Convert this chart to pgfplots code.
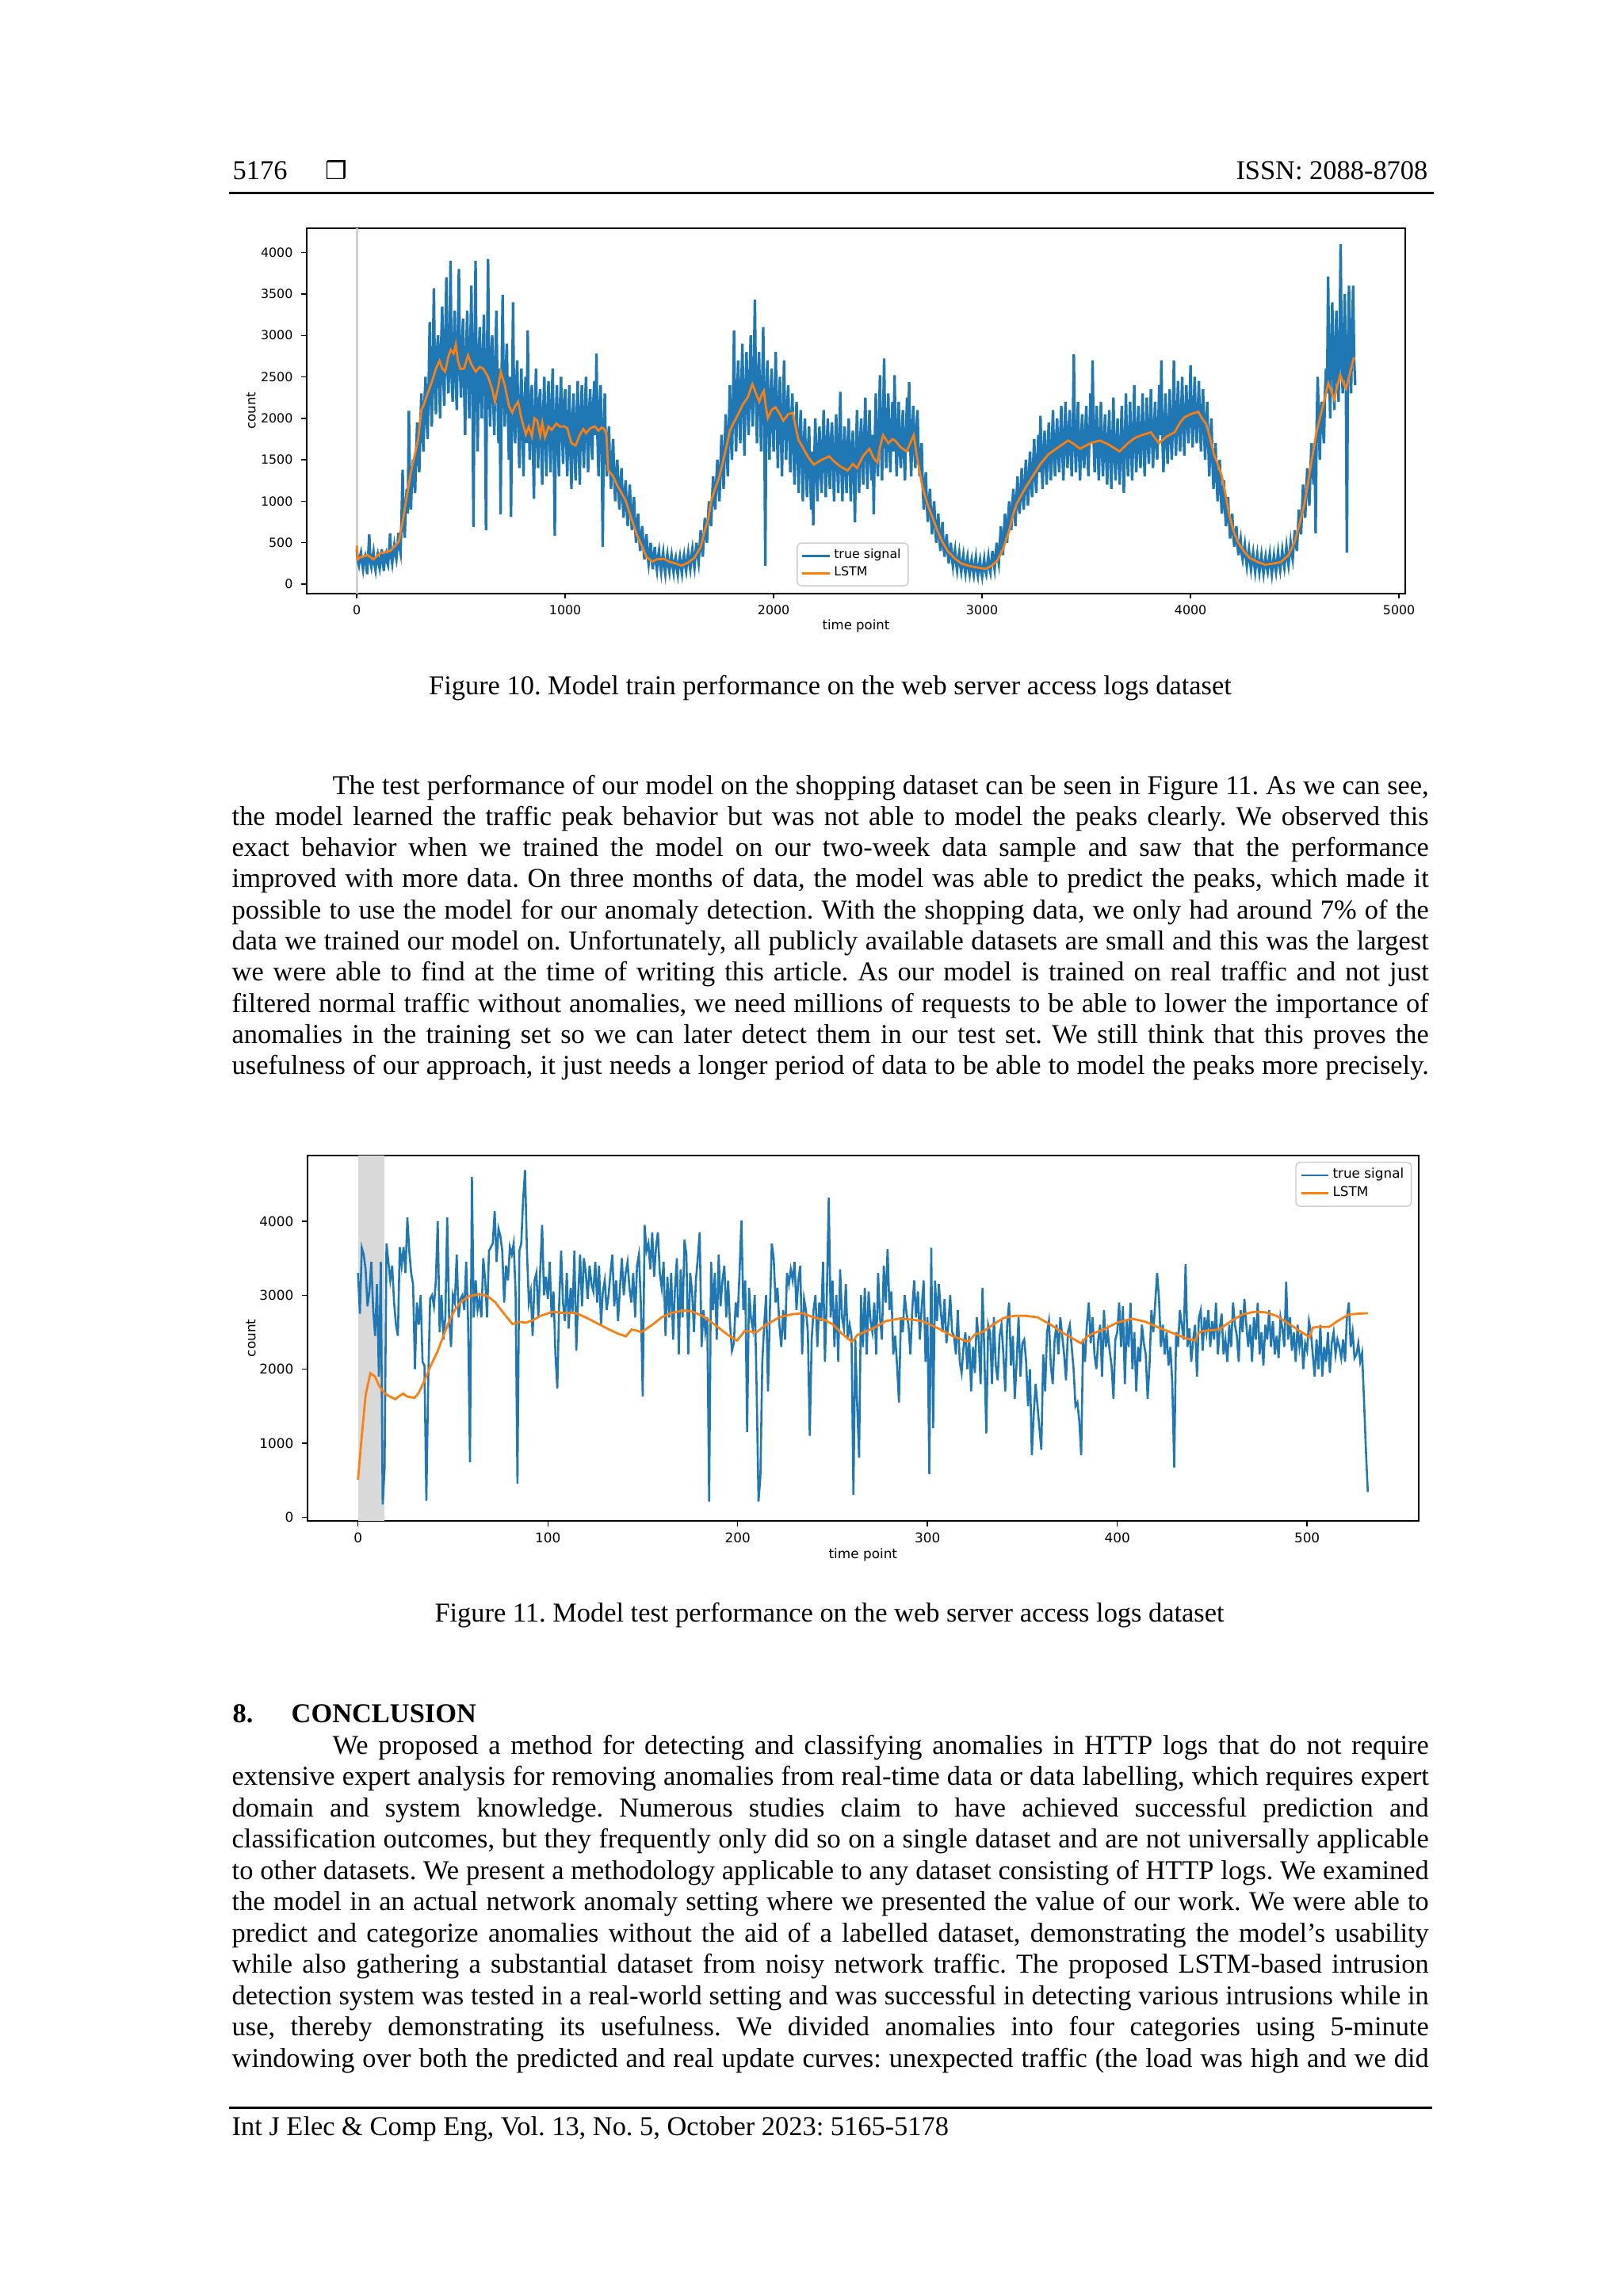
\documentclass[border=0pt]{standalone}
\usepackage{fontspec}
\setmainfont{Liberation Serif}
\newfontfamily\mpl{DejaVu Sans}
\usepackage{graphicx}
\usepackage{pgfplots}
\pgfplotsset{compat=1.18}
\frenchspacing

% full-size pixel -> pt
\def\pp{*0.290662pt}
\newlength\tw \setlength\tw{438.9pt}
\newlength\twi \setlength\twi{402.0pt}
\newcommand\jlw[2]{\setbox0=\hbox{#2}\ifdim\wd0>#1\relax\resizebox{#1}{\height}{\box0}\else\hbox to #1{#2}\fi}
\newcommand\TL[2]{\node at (292\pp,-#1\pp) {\jlw{\tw}{#2}};}
\newcommand\TLI[2]{\node at (419\pp,-#1\pp) {\jlw{\twi}{#2}};}

\definecolor{mblue}{HTML}{1F77B4}
\definecolor{morange}{HTML}{FF7F0E}

\pgfplotsset{
  mplax/.style={
    scale only axis, anchor=north west,
    axis line style={line width=0.6pt, black},
    tick align=outside, tick pos=left,
    major tick length=2pt, tick style={black, line width=0.4pt},
    scaled ticks=false,
    /pgf/number format/1000 sep={},
    /pgf/number format/assume math mode=true,
    xticklabel style={yshift=1pt},
    yticklabel style={xshift=0.4pt},
    legend cell align=left,
    legend image code/.code={\draw[##1, line width=0.8pt] (0pt,0pt) -- (10pt,0pt);},
    legend style={draw=black!20, rounded corners=1.5pt, fill=white,
      inner xsep=1.5pt, inner ysep=1pt, row sep=-1pt,
      nodes={inner sep=1.2pt}},
  },
}

\begin{document}
\begin{tikzpicture}
\fill[white] (0,0) rectangle (2048\pp,-2897\pp);
\path[use as bounding box] (0,0) rectangle (2048\pp,-2897\pp);

% header
\node[anchor=base west, inner sep=0pt, font=\fontsize{10}{12}\selectfont] at (293\pp,-226.7\pp) {5176};
\node[anchor=base west, inner sep=0pt, font=\mpl\fontsize{9}{11}\selectfont] at (410\pp,-226.7\pp) {❒};
\node[anchor=base east, inner sep=0pt, font=\fontsize{10}{12}\selectfont] at (1802\pp,-226.7\pp) {ISSN: 2088-8708};
\draw[line width=0.8pt] (289\pp,-243.3\pp) -- (1809\pp,-243.3\pp);

% Figure 10
\begin{axis}[mplax,
  at={(387\pp,-288\pp)}, width=402.86pt, height=133.88pt,
  xmin=-240, xmax=5030, ymin=-110, ymax=4292,
  xtick={0,1000,2000,3000,4000,5000},
  ytick={0,500,1000,1500,2000,2500,3000,3500,4000},
  tick label style={font=\mpl\fontsize{4.6}{5}\selectfont},
  label style={font=\mpl\fontsize{4.8}{5.5}\selectfont},
  xlabel={time point}, ylabel={count},
  xlabel style={at={(axis description cs:0.5,-0.09)}, anchor=center},
  ylabel style={at={(axis description cs:-0.0507,0.5)}, anchor=center},
  legend style={at={(0.446,0.019)}, anchor=south west, font=\mpl\fontsize{4.6}{5}\selectfont},
]
\addplot[forget plot, black!18, line width=0.9pt] coordinates {(0,-110) (0,4292)};
\addplot[mblue, line width=0.95pt] coordinates {
(0,420)(5,280)(10,230)(15,330)(20,380)(25,260)(30,180)(35,300)(40,340)(45,250)(50,120)(55,350)(60,600)(65,280)(70,210)(75,320)(80,390)(85,240)(90,170)(95,310)
(100,360)(105,250)(110,190)(115,300)(120,420)(125,280)(130,160)(135,350)(140,380)(145,270)(150,230)(155,400)(160,610)(165,330)(170,250)(175,380)(180,470)(185,360)(190,300)(195,450)
(200,620)(205,450)(210,380)(215,800)(220,1380)(225,700)(230,560)(235,950)(240,1150)(245,850)(250,2090)(255,1200)(260,900)(265,1300)(270,1500)(275,1250)(280,1100)(285,1600)(290,1950)(295,1500)
(300,1350)(305,1900)(310,2300)(315,1800)(320,1600)(325,2200)(330,2500)(335,2000)(340,1750)(345,2400)(350,3160)(355,2300)(360,1900)(365,2700)(370,3570)(375,2400)(380,2050)(385,2800)(390,3000)(395,2500)
(400,2000)(405,2900)(410,3350)(415,2500)(420,2150)(425,3000)(430,3700)(435,2600)(440,2300)(445,2950)(450,3900)(455,2500)(460,2200)(465,2900)(470,3300)(475,2450)(480,2100)(485,3000)(490,3800)(495,2600)
(500,2250)(505,2900)(510,3200)(515,2400)(520,1800)(525,2800)(530,3300)(535,2500)(540,2000)(545,2900)(550,3600)(555,2350)(560,690)(565,2800)(570,3900)(575,2400)(580,1600)(585,2700)(590,3100)(595,2300)
(600,2000)(605,2800)(610,3250)(615,2300)(620,650)(625,2700)(630,3920)(635,2400)(640,1900)(645,2750)(650,3000)(655,2200)(660,1800)(665,2700)(670,3300)(675,2300)(680,1700)(685,2600)(690,840)(695,2500)
(700,3490)(705,2300)(710,1900)(715,2600)(720,2900)(725,2100)(730,1500)(735,2500)(740,810)(745,2200)(750,3400)(755,2000)(760,1700)(765,2400)(770,2700)(775,1900)(780,1400)(785,2200)(790,2600)(795,1800)
(800,1300)(805,2200)(810,2500)(815,1700)(820,3060)(825,2000)(830,1500)(835,2200)(840,2400)(845,1700)(850,1030)(855,2100)(860,2600)(865,1800)(870,1400)(875,2200)(880,2350)(885,1650)(890,1200)(895,2100)
(900,2500)(905,1700)(910,1300)(915,2100)(920,2450)(925,1750)(930,1350)(935,2200)(940,2600)(945,1700)(950,585)(955,2000)(960,2400)(965,1700)(970,1300)(975,2150)(980,2500)(985,1800)(990,1450)(995,2200)
(1000,2350)(1005,1700)(1010,1300)(1015,2000)(1020,2400)(1025,1600)(1030,1150)(1035,2000)(1040,2300)(1045,1550)(1050,1250)(1055,2050)(1060,2450)(1065,1600)(1070,1200)(1075,2100)(1080,2400)(1085,1700)(1090,1400)(1095,2150)
(1100,2500)(1105,1750)(1110,1350)(1115,2100)(1120,2350)(1125,1700)(1130,1500)(1135,2200)(1140,2450)(1145,1800)(1150,2780)(1155,1750)(1160,1300)(1165,2150)(1170,2400)(1175,1700)(1180,450)(1185,1900)(1190,2300)(1195,1600)
(1200,1300)(1205,1700)(1210,1900)(1215,1400)(1220,1150)(1225,1500)(1230,1750)(1235,1300)(1240,1000)(1245,1350)(1250,1500)(1255,1150)(1260,900)(1265,1200)(1270,1400)(1275,1050)(1280,800)(1285,1100)(1290,1250)(1295,900)
(1300,700)(1305,1000)(1310,1200)(1315,850)(1320,650)(1325,900)(1330,1050)(1335,700)(1340,500)(1345,750)(1350,850)(1355,550)(1360,400)(1365,600)(1370,700)(1375,450)(1380,300)(1385,500)(1390,600)(1395,350)
(1400,250)(1405,400)(1410,500)(1415,300)(1420,180)(1425,350)(1430,450)(1435,260)(1440,170)(1445,320)(1450,400)(1455,250)(1460,150)(1465,300)(1470,380)(1475,220)(1480,130)(1485,290)(1490,360)(1495,230)
(1500,150)(1505,280)(1510,350)(1515,220)(1520,140)(1525,270)(1530,320)(1535,200)(1540,120)(1545,260)(1550,330)(1555,210)(1560,130)(1565,280)(1570,350)(1575,230)(1580,160)(1585,290)(1590,380)(1595,250)
(1600,180)(1605,330)(1610,420)(1615,280)(1620,200)(1625,380)(1630,500)(1635,350)(1640,260)(1645,450)(1650,650)(1655,450)(1660,330)(1665,600)(1670,800)(1675,600)(1680,500)(1685,800)(1690,1000)(1695,800)
(1700,700)(1705,1050)(1710,1300)(1715,1000)(1720,900)(1725,1250)(1730,1500)(1735,1200)(1740,1000)(1745,1450)(1750,1800)(1755,1400)(1760,1150)(1765,1650)(1770,2050)(1775,1600)(1780,1300)(1785,1900)(1790,2400)(1795,1750)
(1800,1500)(1805,2200)(1810,3060)(1815,2000)(1820,1600)(1825,2300)(1830,2700)(1835,2050)(1840,1700)(1845,2400)(1850,2900)(1855,2100)(1860,1550)(1865,2350)(1870,2800)(1875,2150)(1880,1800)(1885,2500)(1890,3000)(1895,2200)
(1900,1900)(1905,2600)(1910,3430)(1915,2300)(1920,1700)(1925,2500)(1930,2800)(1935,2100)(1940,1600)(1945,2400)(1950,3100)(1955,2100)(1960,220)(1965,2300)(1970,2700)(1975,2000)(1980,1500)(1985,2300)(1990,2600)(1995,1900)
(2000,1600)(2005,2300)(2010,2800)(2015,2000)(2020,1400)(2025,2150)(2030,2500)(2035,1800)(2040,1300)(2045,2100)(2050,2700)(2055,1900)(2060,1500)(2065,2150)(2070,2400)(2075,1800)(2080,1350)(2085,2000)(2090,2300)(2095,1650)
(2100,1200)(2105,1900)(2110,2200)(2115,1550)(2120,1100)(2125,1800)(2130,2100)(2135,1500)(2140,1000)(2145,1700)(2150,2000)(2155,1400)(2160,1050)(2165,1650)(2170,1900)(2175,1350)(2180,900)(2185,1600)(2190,710)(2195,1500)
(2200,2000)(2205,1400)(2210,1000)(2215,1650)(2220,1900)(2225,1350)(2230,1100)(2235,1700)(2240,2100)(2245,1450)(2250,1050)(2255,1700)(2260,2000)(2265,1400)(2270,1150)(2275,1750)(2280,1950)(2285,1400)(2290,1000)(2295,1650)
(2300,2050)(2305,1450)(2310,1100)(2315,1750)(2320,2320)(2325,1400)(2330,1000)(2335,1600)(2340,1900)(2345,1350)(2350,1100)(2355,1700)(2360,2000)(2365,1400)(2370,1000)(2375,1650)(2380,1850)(2385,1300)(2390,745)(2395,1600)
(2400,2100)(2405,1500)(2410,1100)(2415,1700)(2420,2000)(2425,1450)(2430,1200)(2435,1800)(2440,2250)(2445,1550)(2450,1150)(2455,1750)(2460,2100)(2465,1500)(2470,1250)(2475,1800)(2480,844)(2485,1700)(2490,2300)(2495,1550)
(2500,1300)(2505,1900)(2510,2520)(2515,1700)(2520,1250)(2525,1950)(2530,2720)(2535,1800)(2540,1400)(2545,1950)(2550,2300)(2555,1650)(2560,1350)(2565,1900)(2570,2200)(2575,1600)(2580,2520)(2585,1800)(2590,1300)(2595,1850)
(2600,2200)(2605,1600)(2610,1400)(2615,1850)(2620,2100)(2625,1550)(2630,1250)(2635,1800)(2640,2250)(2645,1600)(2650,2440)(2655,1700)(2660,1300)(2665,1850)(2670,2150)(2675,1600)(2680,1400)(2685,1900)(2690,2100)(2695,1600)
(2700,1300)(2705,1550)(2710,1700)(2715,1200)(2720,900)(2725,1150)(2730,1350)(2735,950)(2740,750)(2745,1000)(2750,1150)(2755,800)(2760,600)(2765,850)(2770,1000)(2775,700)(2780,500)(2785,700)(2790,850)(2795,550)
(2800,400)(2805,600)(2810,750)(2815,450)(2820,330)(2825,500)(2830,600)(2835,380)(2840,250)(2845,400)(2850,500)(2855,320)(2860,220)(2865,350)(2870,420)(2875,260)(2880,170)(2885,300)(2890,380)(2895,230)
(2900,150)(2905,270)(2910,350)(2915,210)(2920,130)(2925,260)(2930,330)(2935,190)(2940,120)(2945,240)(2950,300)(2955,180)(2960,110)(2965,230)(2970,320)(2975,170)(2980,100)(2985,220)(2990,290)(2995,160)
(3000,90)(3005,210)(3010,300)(3015,170)(3020,120)(3025,240)(3030,330)(3035,200)(3040,140)(3045,280)(3050,400)(3055,260)(3060,180)(3065,350)(3070,500)(3075,330)(3080,250)(3085,480)(3090,700)(3095,450)
(3100,350)(3105,650)(3110,850)(3115,600)(3120,500)(3125,800)(3130,1000)(3135,750)(3140,650)(3145,950)(3150,1150)(3155,850)(3160,700)(3165,1050)(3170,1300)(3175,950)(3180,850)(3185,1150)(3190,1400)(3195,1050)
(3200,900)(3205,1250)(3210,1500)(3215,1150)(3220,950)(3225,1350)(3230,1600)(3235,1200)(3240,1050)(3245,1450)(3250,1750)(3255,1300)(3260,1100)(3265,1500)(3270,1800)(3275,1350)(3280,2030)(3285,1500)(3290,1150)(3295,1600)
(3300,1850)(3305,1450)(3310,1200)(3315,1650)(3320,1950)(3325,1500)(3330,1250)(3335,1700)(3340,2100)(3345,1550)(3350,1300)(3355,1750)(3360,2000)(3365,1550)(3370,1350)(3375,1800)(3380,2150)(3385,1600)(3390,1250)(3395,1750)
(3400,2200)(3405,1650)(3410,1400)(3415,1850)(3420,2100)(3425,1600)(3430,1300)(3435,1800)(3440,2770)(3445,1750)(3450,1350)(3455,1800)(3460,2200)(3465,1600)(3470,1250)(3475,1750)(3480,2050)(3485,1550)(3490,1400)(3495,1850)
(3500,2150)(3505,1600)(3510,1300)(3515,1800)(3520,2300)(3525,1700)(3530,2700)(3535,1750)(3540,1350)(3545,1800)(3550,2150)(3555,1600)(3560,1250)(3565,1750)(3570,2200)(3575,1600)(3580,1300)(3585,1750)(3590,2050)(3595,1550)
(3600,1200)(3605,1700)(3610,2100)(3615,1550)(3620,1150)(3625,1700)(3630,2250)(3635,1600)(3640,1250)(3645,1650)(3650,2000)(3655,1500)(3660,1200)(3665,1700)(3670,2150)(3675,1550)(3680,1100)(3685,1700)(3690,2300)(3695,1650)
(3700,1300)(3705,1750)(3710,2200)(3715,1650)(3720,1250)(3725,1800)(3730,2400)(3735,1700)(3740,1350)(3745,1800)(3750,2150)(3755,1650)(3760,1400)(3765,1850)(3770,2300)(3775,1700)(3780,1300)(3785,1800)(3790,2250)(3795,1700)
(3800,1450)(3805,1900)(3810,2350)(3815,1750)(3820,1400)(3825,1850)(3830,2200)(3835,1700)(3840,1500)(3845,1900)(3850,2400)(3855,1800)(3860,2700)(3865,1750)(3870,1350)(3875,1850)(3880,2300)(3885,1750)(3890,1450)(3895,1900)
(3900,2350)(3905,1800)(3910,1500)(3915,1950)(3920,2700)(3925,1900)(3930,1550)(3935,2000)(3940,2450)(3945,1900)(3950,1600)(3955,2050)(3960,2500)(3965,1950)(3970,1550)(3975,2050)(3980,2400)(3985,1950)(3990,1700)(3995,2100)
(4000,2640)(4005,2000)(4010,1650)(4015,2100)(4020,2500)(4025,1950)(4030,1700)(4035,2100)(4040,2450)(4045,1950)(4050,1600)(4055,2050)(4060,2350)(4065,1850)(4070,1500)(4075,1950)(4080,2200)(4085,1700)(4090,1300)(4095,1750)
(4100,2000)(4105,1500)(4110,1150)(4115,1450)(4120,1700)(4125,1250)(4130,1000)(4135,1300)(4140,1500)(4145,1100)(4150,850)(4155,1100)(4160,1250)(4165,900)(4170,700)(4175,900)(4180,1050)(4185,750)(4190,550)(4195,750)
(4200,850)(4205,600)(4210,450)(4215,600)(4220,700)(4225,480)(4230,350)(4235,480)(4240,550)(4245,380)(4250,300)(4255,400)(4260,480)(4265,330)(4270,220)(4275,340)(4280,420)(4285,280)(4290,180)(4295,300)
(4300,380)(4305,250)(4310,150)(4315,270)(4320,360)(4325,230)(4330,140)(4335,260)(4340,350)(4345,220)(4350,130)(4355,250)(4360,330)(4365,210)(4370,150)(4375,270)(4380,360)(4385,220)(4390,120)(4395,240)
(4400,340)(4405,230)(4410,150)(4415,270)(4420,380)(4425,250)(4430,170)(4435,290)(4440,400)(4445,280)(4450,200)(4455,330)(4460,450)(4465,320)(4470,230)(4475,370)(4480,500)(4485,380)(4490,300)(4495,480)
(4500,650)(4505,500)(4510,400)(4515,650)(4520,900)(4525,700)(4530,600)(4535,900)(4540,1200)(4545,950)(4550,800)(4555,1100)(4560,1400)(4565,1150)(4570,950)(4575,1350)(4580,1700)(4585,1400)(4590,1200)(4595,1700)
(4600,613)(4605,1900)(4610,2500)(4615,2000)(4620,1500)(4625,2100)(4630,2200)(4635,1850)(4640,1700)(4645,2300)(4650,2600)(4655,2300)(4660,3710)(4665,2600)(4670,2000)(4675,2800)(4680,3400)(4685,2600)(4690,2100)(4695,2900)
(4700,3300)(4705,2500)(4710,2200)(4715,2900)(4720,4100)(4725,2700)(4730,2300)(4735,2900)(4740,3500)(4745,2600)(4750,380)(4755,2700)(4760,3600)(4765,2800)(4770,2300)(4775,3000)(4780,3600)(4785,2700)(4790,2400)
};
\addplot[morange, line width=0.8pt] coordinates {
(0,465)(5,300)(20,330)(52,350)(80,300)(110,370)(129,383)(160,400)(202,515)(220,750)(239,1045)(260,1350)
(294,1739)(310,2100)(322,2166)(340,2300)(359,2430)(380,2600)(397,2694)(410,2600)(424,2562)(440,2750)
(451,2826)(465,2780)(475,2892)(485,2700)(497,2596)(515,2600)(534,2760)(550,2650)(571,2562)(590,2620)
(608,2596)(630,2500)(650,2350)(663,2200)(680,2400)(691,2562)(710,2400)(730,2150)(746,2068)(760,2150)
(774,2200)(790,2000)(811,1805)(825,1900)(840,1780)(853,2000)(866,1970)(880,1790)(890,1950)(903,1772)
(920,1900)(935,1860)(958,1937)(975,1900)(995,1904)(1010,1880)(1030,1700)(1050,1673)(1070,1800)(1087,1871)
(1100,1820)(1120,1880)(1142,1904)(1160,1850)(1175,1890)(1188,1871)(1198,1800)(1206,1377)(1230,1300)
(1252,1179)(1270,1100)(1289,1014)(1310,850)(1330,700)(1345,586)(1370,450)(1390,330)(1418,272)(1440,300)
(1474,305)(1500,270)(1530,250)(1557,223)(1590,260)(1621,322)(1650,450)(1670,650)(1686,783)(1700,1000)
(1714,1113)(1740,1300)(1769,1607)(1790,1850)(1806,1937)(1830,2050)(1852,2166)(1875,2250)(1898,2413)
(1915,2300)(1931,2200)(1942,2280)(1953,2331)(1962,2150)(1972,2002)(1990,2100)(2009,2134)(2030,2050)
(2046,1970)(2070,2050)(2092,2068)(2105,1900)(2119,1739)(2140,1650)(2156,1574)(2175,1500)(2193,1442)
(2230,1500)(2267,1541)(2290,1480)(2320,1420)(2355,1370)(2380,1450)(2400,1400)(2430,1550)(2459,1634)
(2480,1520)(2497,1469)(2510,1650)(2525,1798)(2550,1700)(2570,1750)(2582,1733)(2610,1650)(2638,1601)
(2655,1700)(2672,1798)(2690,1500)(2714,1172)(2740,950)(2761,811)(2785,650)(2808,514)(2835,400)(2865,318)
(2900,250)(2941,218)(2980,200)(3016,185)(3045,220)(3073,284)(3100,420)(3130,646)(3150,850)(3167,976)
(3205,1150)(3243,1305)(3280,1450)(3319,1568)(3365,1650)(3413,1733)(3440,1690)(3470,1634)(3520,1700)
(3565,1733)(3610,1680)(3659,1601)(3700,1700)(3734,1766)(3770,1800)(3810,1832)(3830,1760)(3848,1700)
(3885,1780)(3924,1832)(3950,1950)(3971,2013)(4000,2050)(4037,2079)(4055,2000)(4075,1931)(4095,1750)
(4112,1568)(4130,1450)(4150,1305)(4170,1050)(4188,811)(4205,650)(4226,514)(4255,400)(4283,318)(4320,270)
(4358,235)(4400,250)(4434,268)(4470,350)(4500,514)(4525,750)(4547,976)(4575,1400)(4604,1832)(4635,2150)
(4661,2425)(4675,2330)(4689,2228)(4705,2400)(4718,2524)(4730,2450)(4746,2359)(4765,2550)(4784,2737)
};
\legend{true signal, LSTM}
\end{axis}

\node[anchor=base, inner sep=0pt, font=\fontsize{10}{12}\selectfont] at (1047.5\pp,-876\pp)
  {Figure 10. Model train performance on the web server access logs dataset};

\begin{scope}[every node/.style={anchor=base west, inner sep=0pt, font=\fontsize{10}{12}\selectfont}]
\TLI{1002}{The test performance of our model on the shopping dataset can be seen in Figure 11. As we can see,}
\TL{1041.3}{the model learned the traffic peak behavior but was not able to model the peaks clearly. We observed this}
\TL{1080.6}{exact behavior when we trained the model on our two-week data sample and saw that the performance}
\TL{1119.9}{improved with more data. On three months of data, the model was able to predict the peaks, which made it}
\TL{1159.2}{possible to use the model for our anomaly detection. With the shopping data, we only had around 7\% of the}
\TL{1198.5}{data we trained our model on. Unfortunately, all publicly available datasets are small and this was the largest}
\TL{1237.8}{we were able to find at the time of writing this article. As our model is trained on real traffic and not just}
\TL{1277.1}{filtered normal traffic without anomalies, we need millions of requests to be able to lower the importance of}
\TL{1316.4}{anomalies in the training set so we can later detect them in our test set. We still think that this proves the}
\TL{1355.7}{usefulness of our approach, it just needs a longer period of data to be able to model the peaks more precisely.}
\end{scope}

% Figure 11
\begin{axis}[mplax,
  at={(388\pp,-1458\pp)}, width=407.42pt, height=133.88pt,
  xmin=-26.6, xmax=558.7, ymin=-47, ymax=4888,
  xtick={0,100,200,300,400,500},
  ytick={0,1000,2000,3000,4000},
  tick label style={font=\mpl\fontsize{4.9}{5.5}\selectfont},
  label style={font=\mpl\fontsize{4.9}{5.5}\selectfont},
  xlabel={time point}, ylabel={count},
  xlabel style={at={(axis description cs:0.5,-0.0936)}, anchor=center},
  ylabel style={at={(axis description cs:-0.0509,0.5)}, anchor=center},
  legend style={at={(0.994,0.983)}, anchor=north east, font=\mpl\fontsize{4.9}{5.5}\selectfont},
]
\addplot[forget plot, fill=black!15, draw=none] coordinates {(0,-47) (14,-47) (14,4888) (0,4888)};
\addplot[mblue, line width=0.75pt] coordinates {
(0,3300)(1,2750)(2,3640)(3,3550)(4,3350)(5,2850)(6,3050)(7,3450)(8,2800)(9,2450)
(10,3150)(11,1900)(12,3450)(13,170)(14,650)(15,3700)(16,3450)(17,3200)(18,3400)(19,2900)
(20,2600)(21,2450)(22,3650)(23,3400)(24,3650)(25,3300)(26,4050)(27,3600)(28,3300)(29,3150)
(30,2000)(31,2900)(32,2600)(33,3000)(34,2100)(35,2050)(36,220)(37,1850)(38,2950)(39,3000)
(40,2850)(41,3200)(42,4000)(43,2500)(44,3000)(45,2400)(46,2700)(47,4050)(48,2700)(49,2300)
(50,3000)(51,2900)(52,3550)(53,2700)(54,2950)(55,3000)(56,2800)(57,3450)(58,2650)(59,740)
(60,4600)(61,2700)(62,3200)(63,2800)(64,2950)(65,2700)(66,3500)(67,3200)(68,2700)(69,3600)
(70,3650)(71,3700)(72,4140)(73,3450)(74,3900)(75,3800)(76,3600)(77,2900)(78,3400)(79,3200)
(80,3650)(81,3550)(82,3700)(83,3050)(84,450)(85,3600)(86,3700)(87,4300)(88,4690)(89,3600)
(90,2900)(91,3050)(92,2450)(93,3200)(94,3300)(95,2700)(96,3350)(97,3950)(98,3000)(99,3250)
(100,2950)(101,3450)(102,2700)(103,3050)(104,2200)(105,1740)(106,2900)(107,3600)(108,2900)(109,2650)
(110,3300)(111,2550)(112,3100)(113,2750)(114,3600)(115,2250)(116,3000)(117,3550)(118,2850)(119,3500)
(120,3300)(121,2950)(122,3400)(123,3150)(124,3050)(125,3450)(126,2900)(127,3400)(128,2600)(129,3050)
(130,3200)(131,2800)(132,3000)(133,3300)(134,3550)(135,2850)(136,3200)(137,2650)(138,3100)(139,3500)
(140,3000)(141,3300)(142,3450)(143,3100)(144,2900)(145,3300)(146,2700)(147,3400)(148,3550)(149,2900)
(150,1630)(151,3950)(152,3600)(153,3700)(154,3350)(155,3850)(156,3250)(157,3650)(158,3850)(159,3300)
(160,3100)(161,3450)(162,2450)(163,3250)(164,2700)(165,3300)(166,2400)(167,3100)(168,3500)(169,2200)
(170,3350)(171,2700)(172,3750)(173,3550)(174,2200)(175,3300)(176,3050)(177,2500)(178,3200)(179,3500)
(180,3850)(181,2300)(182,2800)(183,2500)(184,2700)(185,210)(186,3450)(187,2800)(188,3300)(189,2400)
(190,3550)(191,2850)(192,3200)(193,3400)(194,2700)(195,3200)(196,2600)(197,2250)(198,2350)(199,2900)
(200,2700)(201,3300)(202,4010)(203,2800)(204,3200)(205,1150)(206,3100)(207,2700)(208,2550)(209,3000)
(210,1750)(211,211)(212,550)(213,2100)(214,2600)(215,3000)(216,1700)(217,2800)(218,3700)(219,3500)
(220,2900)(221,3100)(222,2600)(223,2300)(224,2800)(225,2400)(226,3300)(227,3150)(228,3350)(229,3200)
(230,3450)(231,2800)(232,3200)(233,3400)(234,2200)(235,2950)(236,2800)(237,2500)(238,1100)(239,2400)
(240,2800)(241,3000)(242,2300)(243,2900)(244,2650)(245,3450)(246,2100)(247,3000)(248,4320)(249,2700)
(250,3200)(251,2300)(252,3000)(253,2100)(254,3350)(255,2700)(256,2550)(257,3150)(258,2400)(259,2600)
(260,2450)(261,303)(262,2400)(263,1500)(264,803)(265,3000)(266,2300)(267,3100)(268,2200)(269,3050)
(270,2650)(271,2500)(272,2900)(273,2200)(274,3300)(275,2700)(276,2400)(277,3400)(278,2900)(279,3622)
(280,2800)(281,3050)(282,2200)(283,2450)(284,2050)(285,1550)(286,2700)(287,2500)(288,3000)(289,2750)
(290,2600)(291,2200)(292,2800)(293,3200)(294,2700)(295,3050)(296,2400)(297,2850)(298,3200)(299,2100)
(300,2700)(301,580)(302,3640)(303,1200)(304,3200)(305,2650)(306,3150)(307,2800)(308,2500)(309,2950)
(310,2350)(311,2600)(312,3000)(313,2500)(314,2450)(315,2200)(316,2800)(317,2100)(318,1950)(319,2300)
(320,2500)(321,2000)(322,2450)(323,1700)(324,2300)(325,1950)(326,2700)(327,2400)(328,1800)(329,3100)
(330,2200)(331,1133)(332,2600)(333,2500)(334,1800)(335,2700)(336,2050)(337,1850)(338,2450)(339,2600)
(340,2200)(341,1700)(342,2600)(343,2900)(344,2050)(345,2450)(346,1600)(347,2100)(348,2700)(349,1900)
(350,2350)(351,2400)(352,2100)(353,1500)(354,2000)(355,836)(356,1400)(357,1800)(358,1500)(359,1200)
(360,910)(361,2200)(362,1700)(363,2500)(364,2650)(365,2050)(366,1800)(367,2400)(368,2600)(369,2200)
(370,2700)(371,2450)(372,2200)(373,1850)(374,2500)(375,2600)(376,2300)(377,2000)(378,1500)(379,1550)
(380,1300)(381,836)(382,2400)(383,2100)(384,2600)(385,2900)(386,2350)(387,2700)(388,2200)(389,2000)
(390,2400)(391,2600)(392,1900)(393,2800)(394,2300)(395,2500)(396,2250)(397,2050)(398,1600)(399,2400)
(400,2500)(401,2900)(402,2300)(403,2850)(404,1800)(405,2650)(406,2300)(407,2900)(408,2000)(409,2500)
(410,1700)(411,2300)(412,2100)(413,2600)(414,2350)(415,2200)(416,1600)(417,2050)(418,2800)(419,2500)
(420,2900)(421,3300)(422,2950)(423,2300)(424,2600)(425,2200)(426,2500)(427,2050)(428,2300)(429,1800)
(430,670)(431,2500)(432,2300)(433,2800)(434,2600)(435,2400)(436,3420)(437,2300)(438,2550)(439,2100)
(440,2400)(441,2600)(442,1900)(443,2700)(444,2800)(445,2250)(446,2700)(447,2500)(448,2800)(449,2300)
(450,2650)(451,2400)(452,2900)(453,2200)(454,2550)(455,2750)(456,2200)(457,2400)(458,2100)(459,2600)
(460,2300)(461,2900)(462,2600)(463,2450)(464,2100)(465,2800)(466,2500)(467,2950)(468,2600)(469,2300)
(470,2600)(471,2100)(472,2700)(473,2400)(474,2900)(475,2200)(476,2500)(477,2050)(478,2600)(479,2400)
(480,2800)(481,2300)(482,2650)(483,2200)(484,2450)(485,2150)(486,2700)(487,2550)(488,2300)(489,3180)
(490,2400)(491,2700)(492,2250)(493,2500)(494,2100)(495,2600)(496,2300)(497,2500)(498,2000)(499,2350)
(500,2250)(501,2650)(502,2500)(503,2200)(504,1900)(505,2400)(506,2000)(507,2600)(508,1900)(509,2300)
(510,2100)(511,2500)(512,1950)(513,2350)(514,2500)(515,2200)(516,2400)(517,2300)(518,2150)(519,2400)
(520,2100)(521,2700)(522,2900)(523,2300)(524,2500)(525,2150)(526,2200)(527,2350)(528,2100)(529,2220)
(530,1580)(531,900)(532,340)
};
\addplot[morange, line width=0.8pt] coordinates {
(0,506)(2,1100)(4,1650)(6.5,1945)(9,1900)(11,1780)(13.6,1687)(16,1640)(19.6,1594)(22,1640)(23.7,1668)
(26,1630)(29.8,1612)(32,1680)(34.8,1834)(38,2030)(41.9,2240)(45,2450)(48,2646)(51,2800)(54,2905)(58,2980)
(64,3016)(68,2990)(72.3,2905)(76,2780)(81.4,2609)(85,2640)(88.5,2628)(92,2660)(96,2720)(102.6,2776)
(108,2760)(114.8,2757)(120,2700)(126,2620)(132,2540)(137,2480)(141.1,2443)(144.1,2535)(147,2520)
(149.2,2499)(155,2600)(160,2700)(165,2760)(171.4,2794)(176,2780)(181.5,2720)(186,2640)(190,2560)
(195,2460)(199.7,2387)(203.8,2517)(209.9,2499)(215,2600)(222,2702)(228,2740)(234.2,2757)(240,2700)
(245.8,2665)(250,2609)(255,2480)(260.3,2369)(263,2460)(266.5,2499)(272,2560)(278,2650)(285.2,2683)
(292,2670)(297.7,2646)(305,2560)(313,2450)(321.6,2369)(325,2470)(328.8,2499)(335,2610)(340,2690)
(345.5,2720)(352,2720)(358,2702)(365,2600)(372,2480)(380.9,2350)(384,2440)(387,2480)(393,2540)
(400,2630)(407.8,2683)(415,2640)(422,2560)(430,2480)(436,2420)(441,2387)(443,2490)(445,2517)
(453.5,2535)(460,2650)(466,2740)(472.2,2775)(478,2770)(484,2720)(490,2620)(496,2520)(501.3,2432)
(503,2560)(505.5,2572)(511.7,2572)(516,2650)(522,2739)(527,2750)(532,2757)
};
\legend{true signal, LSTM}
\end{axis}

\node[anchor=base, inner sep=0pt, font=\fontsize{10}{12}\selectfont] at (1046.6\pp,-2046\pp)
  {Figure 11. Model test performance on the web server access logs dataset};

\begin{scope}[every node/.style={anchor=base west, inner sep=0pt, font=\fontsize{10}{12}\selectfont}]
\node[font=\bfseries\fontsize{10}{12}\selectfont] at (293\pp,-2173.3\pp) {8.};
\node[font=\bfseries\fontsize{10}{12}\selectfont] at (367\pp,-2173.3\pp) {CONCLUSION};
\TLI{2213.3}{We proposed a method for detecting and classifying anomalies in HTTP logs that do not require}
\TL{2252.8}{extensive expert analysis for removing anomalies from real-time data or data labelling, which requires expert}
\TL{2292.3}{domain and system knowledge. Numerous studies claim to have achieved successful prediction and}
\TL{2331.8}{classification outcomes, but they frequently only did so on a single dataset and are not universally applicable}
\TL{2371.3}{to other datasets. We present a methodology applicable to any dataset consisting of HTTP logs. We examined}
\TL{2410.8}{the model in an actual network anomaly setting where we presented the value of our work. We were able to}
\TL{2450.3}{predict and categorize anomalies without the aid of a labelled dataset, demonstrating the model’s usability}
\TL{2489.8}{while also gathering a substantial dataset from noisy network traffic. The proposed LSTM-based intrusion}
\TL{2529.3}{detection system was tested in a real-world setting and was successful in detecting various intrusions while in}
\TL{2568.8}{use, thereby demonstrating its usefulness. We divided anomalies into four categories using 5-minute}
\TL{2608.3}{windowing over both the predicted and real update curves: unexpected traffic (the load was high and we did}
\end{scope}

% footer
\draw[line width=0.9pt] (289\pp,-2659.3\pp) -- (1807\pp,-2659.3\pp);
\node[anchor=base west, inner sep=0pt, font=\fontsize{10}{12}\selectfont] at (292\pp,-2694\pp)
  {Int J Elec \& Comp Eng, Vol. 13, No. 5, October 2023: 5165-5178};
\end{tikzpicture}
\end{document}
